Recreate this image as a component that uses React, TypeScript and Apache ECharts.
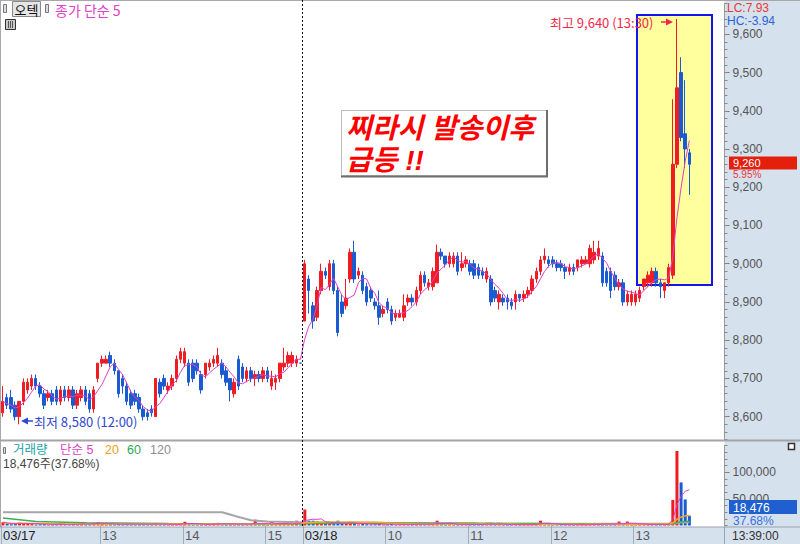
import React, { useEffect, useRef } from "react";
import * as echarts from "echarts";

const sessions = [
  { date: "03/17", start: "11:48", count: 73 },
  { date: "03/18", start: "09:00", count: 94 },
];
const stepMinutes = 3;
const emptySlots = 8;

// [open, close, low, high]
const candlesDay1: number[][] = [
  [8610, 8640, 8600, 8680], [8650, 8630, 8620, 8660], [8650, 8620, 8610, 8670], [8630, 8600, 8590, 8640],
  [8600, 8640, 8580, 8640], [8640, 8690, 8630, 8700], [8670, 8690, 8660, 8700], [8680, 8700, 8670, 8710],
  [8700, 8680, 8670, 8710], [8680, 8660, 8650, 8690], [8660, 8630, 8620, 8670], [8650, 8660, 8640, 8670],
  [8660, 8640, 8630, 8670], [8670, 8640, 8630, 8680], [8640, 8670, 8630, 8680], [8670, 8650, 8640, 8680],
  [8650, 8670, 8640, 8680], [8670, 8630, 8620, 8680], [8630, 8660, 8620, 8670], [8650, 8670, 8640, 8680],
  [8670, 8640, 8630, 8680], [8660, 8620, 8610, 8670], [8620, 8670, 8610, 8680], [8700, 8740, 8690, 8740],
  [8740, 8750, 8730, 8760], [8740, 8750, 8740, 8760], [8760, 8740, 8730, 8770], [8740, 8720, 8710, 8750],
  [8720, 8660, 8650, 8720], [8700, 8680, 8660, 8710], [8680, 8640, 8630, 8690], [8660, 8630, 8620, 8670],
  [8660, 8640, 8630, 8670], [8650, 8620, 8610, 8660], [8620, 8600, 8590, 8630], [8610, 8600, 8590, 8620],
  [8620, 8610, 8600, 8630], [8600, 8700, 8600, 8700], [8690, 8660, 8650, 8700], [8700, 8680, 8670, 8710],
  [8670, 8680, 8660, 8690], [8680, 8700, 8670, 8710], [8700, 8750, 8690, 8760], [8750, 8770, 8740, 8780],
  [8740, 8770, 8730, 8780], [8740, 8690, 8680, 8750], [8740, 8700, 8690, 8750], [8740, 8720, 8710, 8750],
  [8710, 8670, 8660, 8720], [8710, 8740, 8700, 8740], [8730, 8740, 8720, 8750], [8740, 8750, 8730, 8760],
  [8740, 8760, 8730, 8780], [8740, 8710, 8700, 8750], [8720, 8690, 8680, 8730], [8700, 8670, 8640, 8700],
  [8660, 8690, 8650, 8700], [8750, 8680, 8670, 8760], [8730, 8700, 8690, 8740], [8700, 8720, 8690, 8730],
  [8720, 8700, 8690, 8730], [8700, 8710, 8680, 8720], [8710, 8700, 8690, 8720], [8700, 8720, 8690, 8730],
  [8720, 8700, 8690, 8730], [8680, 8700, 8670, 8720], [8690, 8700, 8670, 8710], [8700, 8740, 8690, 8740],
  [8730, 8740, 8720, 8780], [8740, 8760, 8730, 8770], [8740, 8760, 8730, 8770], [8740, 8750, 8730, 8760],
  [8740, 8740, 8740, 8740],
];
const candlesDay2: number[][] = [
  [8850, 9000, 8850, 9010], [8960, 8930, 8870, 8970], [8890, 8850, 8830, 8900], [8860, 8930, 8850, 8940],
  [8930, 8980, 8920, 9000], [8980, 8970, 8960, 8990], [8940, 9000, 8930, 9010], [9000, 8930, 8920, 9010],
  [8930, 8820, 8810, 8940], [8900, 8870, 8860, 8920], [8890, 8910, 8880, 8960], [8960, 9030, 8950, 9040],
  [9030, 8960, 8950, 9060], [8970, 8980, 8960, 8990], [8970, 8930, 8920, 8980], [8940, 8900, 8890, 8950],
  [8930, 8910, 8900, 8940], [8900, 8890, 8880, 8910], [8890, 8860, 8840, 8930], [8870, 8880, 8860, 8890],
  [8900, 8880, 8870, 8910], [8880, 8850, 8840, 8890], [8860, 8870, 8850, 8880], [8860, 8870, 8860, 8880],
  [8860, 8890, 8850, 8920], [8900, 8910, 8890, 8920], [8910, 8900, 8890, 8920], [8900, 8930, 8890, 8940],
  [8930, 8970, 8920, 8980], [8970, 8950, 8940, 8980], [8940, 8950, 8930, 8960], [8940, 8980, 8930, 8990],
  [8950, 9030, 8950, 9050], [9030, 9020, 9010, 9040], [9020, 9000, 8990, 9020], [9000, 9020, 8990, 9030],
  [9000, 9020, 8990, 9030], [9020, 8980, 8970, 9030], [8990, 9000, 8980, 9030], [9000, 9010, 8990, 9020],
  [9000, 8980, 8970, 9010], [9000, 8970, 8960, 9010], [8990, 8970, 8960, 9000], [8980, 8970, 8960, 8990],
  [8960, 8980, 8950, 8990], [8960, 8900, 8890, 8970], [8930, 8910, 8900, 8940], [8900, 8920, 8880, 8930],
  [8910, 8900, 8890, 8920], [8910, 8900, 8880, 8920], [8900, 8890, 8880, 8910], [8900, 8920, 8880, 8930],
  [8920, 8910, 8900, 8920], [8910, 8920, 8900, 8930], [8920, 8930, 8910, 8940], [8930, 8960, 8920, 8970],
  [8960, 8980, 8950, 8990], [8980, 9010, 8970, 9020], [9010, 9020, 9000, 9040], [9010, 9000, 8990, 9020],
  [9010, 9000, 8990, 9020], [9000, 8990, 8980, 9010], [9000, 8990, 8980, 9010], [8990, 8980, 8960, 9000],
  [8980, 8990, 8970, 9000], [8990, 8980, 8970, 9000], [8990, 9010, 8980, 9010], [9000, 9010, 8990, 9020],
  [9000, 9010, 9000, 9020], [9000, 9040, 8990, 9050], [9010, 9030, 9000, 9060], [9020, 9040, 9010, 9060],
  [9020, 8950, 8940, 9030], [8980, 8950, 8940, 8990], [8980, 8930, 8910, 8990], [8970, 8940, 8930, 8980],
  [8940, 8950, 8930, 8960], [8950, 8900, 8890, 8960], [8900, 8920, 8890, 8930], [8900, 8920, 8890, 8930],
  [8900, 8920, 8890, 8930], [8910, 8930, 8900, 8940], [8940, 8960, 8930, 8960], [8950, 8970, 8940, 8980],
  [8950, 8980, 8940, 8990], [8980, 8950, 8940, 8990], [8950, 8940, 8910, 8960], [8930, 8950, 8910, 8950],
  [8950, 8990, 8940, 9000], [8970, 9260, 8960, 9430], [9260, 9460, 9250, 9640], [9500, 9330, 9320, 9540],
  [9340, 9300, 9250, 9480], [9290, 9260, 9180, 9300],
];
const volumeDay1: number[] = [
  6000, 3000, 2500, 4000, 5000, 4500, 3000, 3500, 2000, 2500,
  3000, 1500, 2000, 2500, 3000, 1500, 2000, 3000, 2500, 5500,
  2000, 2500, 4000, 6000, 3000, 2000, 2500, 2000, 4000, 2000,
  3000, 2500, 2000, 2500, 3500, 2000, 2500, 4500, 2000, 1500,
  1500, 2000, 3000, 3500, 7000, 2500, 2000, 1500, 2500, 2000,
  2000, 3500, 5000, 2000, 2500, 3000, 2000, 4500, 2000, 2500,
  2000, 11000, 2000, 2500, 2000, 8000, 2000, 3000, 4000, 2500,
  3000, 9000, 2000,
];
const volumeDay2: number[] = [
  30000, 9000, 9000, 8000, 6000, 3000, 5000, 4000, 9000, 3000,
  3000, 6000, 5000, 2000, 3000, 2500, 2000, 2000, 3500, 1500,
  2000, 3000, 1500, 1500, 2500, 2000, 2000, 4000, 3000, 2000,
  1500, 3000, 9000, 3000, 2000, 2500, 2000, 2500, 2000, 1500,
  2000, 2500, 1500, 1500, 5000, 3000, 2000, 2500, 1500, 1500,
  1500, 2000, 1000, 1500, 1500, 2500, 3000, 9000, 3500, 1500,
  1500, 1500, 1500, 2000, 1000, 1500, 1500, 1500, 1000, 3000,
  2500, 2500, 4000, 2000, 2500, 2000, 7500, 2000, 7500, 1500,
  1500, 2000, 2500, 2000, 2500, 2000, 1500, 2000, 3000, 48000,
  140000, 81000, 49034, 18476,
];
// moving averages of volume before enough in-window data exists
const volMa60Early: number[][] = [[0, 14000], [8, 7500], [20, 5000], [40, 3800], [58, 3200]];
const volMa120Early: number[][] = [[0, 25000], [53, 25000], [57, 16000], [60, 10000], [64, 7500], [72, 6000], [96, 4700], [118, 3600]];
const priceTicks = [8600, 8700, 8800, 8900, 9000, 9100, 9200, 9300, 9400, 9500, 9600];
const volumeTicks = [50000, 100000];

const RED = "#F01C24";
const BLUE = "#1B5BD2";
const FONT = "'Liberation Sans', 'Noto Sans CJK KR', sans-serif";
const KFONT = "'Noto Sans CJK KR', 'Liberation Sans', sans-serif";

function sma(values: number[], n: number): number[] {
  return values.map((_, i) => {
    const s = Math.max(0, i - n + 1);
    let sum = 0;
    for (let k = s; k <= i; k++) sum += values[k];
    return sum / (i - s + 1);
  });
}

const fmt = (n: number) => n.toLocaleString("en-US");
const pad = (n: number) => String(n).padStart(2, "0");

function txt(x: number, y: number, text: string, fill: string, font: string, align = "left", extra: any = {}) {
  return {
    type: "text",
    x,
    y,
    z: 50,
    silent: true,
    style: { text, fill, font, textAlign: align, textVerticalAlign: "middle", align, verticalAlign: "middle", ...extra },
  };
}
function rect(x: number, y: number, w: number, h: number, style: any, z = 40) {
  return { type: "rect", z, silent: true, shape: { x, y, width: w, height: h }, style };
}
function line(x1: number, y1: number, x2: number, y2: number, style: any, z = 45) {
  return { type: "line", z, silent: true, shape: { x1, y1, x2, y2 }, style };
}

function buildOption() {
  const candles = [...candlesDay1, ...candlesDay2];
  const volumes = [...volumeDay1, ...volumeDay2];
  const times: { date: string; hh: number; mm: number; k: number }[] = [];
  sessions.forEach((s) => {
    const [h, m] = s.start.split(":").map(Number);
    for (let k = 0; k < s.count; k++) {
      const t = h * 60 + m + k * stepMinutes;
      times.push({ date: s.date, hh: Math.floor(t / 60), mm: t % 60, k });
    }
  });
  const categories = times.map((t) => `${t.date} ${pad(t.hh)}:${pad(t.mm)}`);
  for (let e = 0; e < emptySlots; e++) categories.push(`+${e + 1}`);
  const labelAt = new Map<number, string>();
  times.forEach((t, i) => {
    if (t.k === 0) labelAt.set(i, `{d|${t.date}}`);
    else if (t.mm === 0 && t.k >= 8) labelAt.set(i, `{h|${pad(t.hh)}}`);
  });

  const closes = candles.map((c) => c[1]);
  const priceMa5 = sma(closes, 5).map((v) => +v.toFixed(2));
  const sign = (i: number) => {
    const [o, c] = candles[i];
    if (c > o) return 1;
    if (c < o) return -1;
    return i > 0 && c >= candles[i - 1][1] ? 1 : -1;
  };
  const volBars = volumes.map((v, i) => ({ value: v, itemStyle: { color: sign(i) > 0 ? RED : BLUE } }));
  const vMa5 = sma(volumes, 5);
  const vMa20 = sma(volumes, 20);
  const vMa60Full = sma(volumes, 60);
  const vMa120Full = sma(volumes, 120);
  const vMa60 = [...volMa60Early, ...vMa60Full.map((v, i) => [i, v]).filter((p) => p[0] >= 59)];
  const vMa120 = [...volMa120Early, ...vMa120Full.map((v, i) => [i, v]).filter((p) => p[0] >= 119)];

  let lowI = 0;
  let highI = 0;
  candles.forEach((c, i) => {
    if (c[2] < candles[lowI][2]) lowI = i;
    if (c[3] > candles[highI][3]) highI = i;
  });
  const last = candles[candles.length - 1][1];
  const low = candles[lowI][2];
  const high = candles[highI][3];
  const prevDayClose = candlesDay1[candlesDay1.length - 1][1];
  const lastVol = volumes[volumes.length - 1];
  const prevVol = volumes[volumes.length - 2];
  const lc = ((last / low - 1) * 100).toFixed(2);
  const hc = ((last / high - 1) * 100).toFixed(2);
  const dayPct = ((last / prevDayClose - 1) * 100).toFixed(2);
  const volPct = ((lastVol / prevVol) * 100).toFixed(2);
  const tLow = times[lowI];
  const tHigh = times[highI];
  const lastT = times[times.length - 1];

  const tickFn = (i: number) => labelAt.has(i);
  const f10 = `10px ${FONT}`;
  const f11 = `11px ${FONT}`;
  const f12 = `12px ${FONT}`;
  const f125 = `12.5px ${FONT}`;
  const k13 = `13px ${KFONT}`;

  const graphic: any[] = [
    // backgrounds
    rect(724.5, 0, 75.5, 544, { fill: "#D6E1EE" }, -20),
    rect(0, 527, 724.5, 17, { fill: "#D6E1EE" }, -20),
    line(0, 0.5, 800, 0.5, { stroke: "#A8A8A8", lineWidth: 1 }),
    line(0.5, 0, 0.5, 527, { stroke: "#A8A8A8", lineWidth: 1 }),
    line(0, 440.5, 800, 440.5, { stroke: "#A4A4A4", lineWidth: 2 }),
    line(0, 527, 800, 527, { stroke: "#9AA2AC", lineWidth: 1 }),
    line(724.5, 527, 724.5, 544, { stroke: "#9AA2AC", lineWidth: 1 }),
    // highlight box
    rect(637, 15, 75, 270, { fill: "#FFFF9E", stroke: "#1414F0", lineWidth: 2 }, -10),
    // day divider
    line(302.5, 0, 302.5, 527, { stroke: "#111", lineWidth: 1, lineDash: [2, 2] }),
    // high marker
    txt(550, 22, `최고 ${fmt(high)} (${pad(tHigh.hh)}:${pad(tHigh.mm)})`, "#F0284A", k13),
    line(661, 22, 668, 22, { stroke: "#F0284A", lineWidth: 1.5 }),
    { type: "polygon", z: 50, silent: true, shape: { points: [[673, 22], [666, 18.5], [666, 25.5]] }, style: { fill: "#F0284A" } },
    // low marker
    { type: "polygon", z: 50, silent: true, shape: { points: [[21, 421], [28, 417.5], [28, 424.5]] }, style: { fill: "#2E48D0" } },
    line(27, 421, 33, 421, { stroke: "#2E48D0", lineWidth: 1.5 }),
    txt(34, 421, `최저 ${fmt(low)} (${pad(tLow.hh)}:${pad(tLow.mm)})`, "#2E48D0", k13),
    // comment box
    rect(341.5, 110.5, 205, 65, { fill: "#FFFFFF", stroke: "#BDBDBD", lineWidth: 1 }, 40),
    line(547, 110, 547, 177, { stroke: "#6E6E6E", lineWidth: 2 }),
    line(341, 176.5, 548, 176.5, { stroke: "#6E6E6E", lineWidth: 2 }),
    txt(346, 128, "찌라시 발송이후", "#FF0000", `italic bold 28px ${FONT}`),
    txt(346, 160, "급등 !!", "#FF0000", `italic bold 28px ${FONT}`),
    // top-left legend
    rect(3.5, 4.5, 3, 8, { fill: "#DDD", stroke: "#777", lineWidth: 1 }),
    rect(12.5, 1.5, 28, 15, { fill: "#E6E6E6", stroke: "#8A8A8A", lineWidth: 1 }),
    txt(26.5, 9.5, "오텍", "#111", k13, "center"),
    rect(45.5, 4.5, 3, 8, { fill: "#DDD", stroke: "#777", lineWidth: 1 }),
    txt(55, 10, "종가 단순 5", "#E040C8", `14px ${KFONT}`),
    rect(5.5, 19.5, 10, 10, { fill: "#C8C8C8", stroke: "#333", lineWidth: 1 }),
    line(8.5, 21, 8.5, 28, { stroke: "#555", lineWidth: 1 }),
    line(10.5, 21, 10.5, 28, { stroke: "#555", lineWidth: 1 }),
    line(12.5, 21, 12.5, 28, { stroke: "#555", lineWidth: 1 }),
    // volume legend
    rect(3.5, 447.5, 2, 6, { fill: "#DDD", stroke: "#777", lineWidth: 1 }),
    txt(13, 449.5, "거래량", "#22A4A8", f125),
    txt(60, 449.5, "단순 5", "#E040C8", f125),
    txt(105, 449.5, "20", "#F0A020", f125),
    txt(127, 449.5, "60", "#30A850", f125),
    txt(150, 449.5, "120", "#8E8E8E", f125),
    txt(3, 464, `${fmt(lastVol)}주(${volPct}%)`, "#444", f12),
    // right panel
    txt(727, 8, `LC:${lc}`, "#E83838", f12),
    txt(727, 21, `HC:${hc}`, "#2A62D8", f12),
    rect(729, 156.5, 68, 13, { fill: "#E4200C" }),
    txt(733, 162.5, fmt(last), "#FFFFFF", f11),
    txt(733, 174.3, `${dayPct}%`, "#E83838", f10),
    rect(729, 500, 68, 14, { fill: "#1F5FCF" }),
    txt(733, 507.5, fmt(lastVol), "#FFFFFF", f12),
    txt(733, 521, `${volPct}%`, "#3A70E0", f12),
    txt(732, 536, `${pad(lastT.hh)}:${pad(lastT.mm)}:00`, "#333", f12),
    rect(788.5, 443.5, 6, 6, { fill: "#FFF", stroke: "#333", lineWidth: 1.5 }),
  ];

  const minorTick = { show: true, length: 3, lineStyle: { color: "#8A8A8A" } };
  return {
    animation: false,
    backgroundColor: "#FFFFFF",
    grid: [
      { left: 0.5, right: 75.5, top: 3.7, height: 435.9 },
      { left: 0.5, right: 75.5, top: 445.7, height: 79.8 },
    ],
    xAxis: [
      {
        type: "category", gridIndex: 0, data: categories, boundaryGap: true,
        axisLine: { show: false }, axisTick: { show: false }, axisLabel: { show: false }, splitLine: { show: false },
      },
      {
        type: "category", gridIndex: 1, data: categories, boundaryGap: true,
        axisLine: { show: false },
        axisTick: { show: true, interval: tickFn, length: 19, lineStyle: { color: "#A3AEBC" } },
        axisLabel: {
          interval: tickFn, margin: 3, align: "left",
          formatter: (_v: string, i: number) => labelAt.get(i) ?? "",
          rich: {
            d: { color: "#222", fontSize: 13, fontFamily: FONT },
            h: { color: "#5A5A5A", fontSize: 13, fontFamily: FONT },
          },
        },
        splitLine: { show: false },
      },
    ],
    yAxis: [
      {
        type: "value", gridIndex: 0, position: "right", min: 8540, max: 9680,
        axisLine: { show: true, lineStyle: { color: "#9A9A9A" } },
        axisTick: { show: true, customValues: priceTicks, length: 5, lineStyle: { color: "#777" } },
        axisLabel: { customValues: priceTicks, formatter: (v: number) => fmt(v), color: "#555", fontSize: 12, fontFamily: FONT, margin: 8 },
        splitLine: { show: false },
      },
      {
        type: "value", gridIndex: 0, position: "right", min: 8540, max: 9680, interval: 20,
        axisLine: { show: false }, axisTick: minorTick, axisLabel: { show: false }, splitLine: { show: false },
      },
      {
        type: "value", gridIndex: 1, position: "right", min: 0, max: 150000,
        axisLine: { show: true, lineStyle: { color: "#9A9A9A" } },
        axisTick: { show: true, customValues: volumeTicks, length: 5, lineStyle: { color: "#777" } },
        axisLabel: { customValues: volumeTicks, formatter: (v: number) => fmt(v), color: "#555", fontSize: 12, fontFamily: FONT, margin: 8 },
        splitLine: { show: false },
      },
      {
        type: "value", gridIndex: 1, position: "right", min: 0, max: 150000, interval: 12500,
        axisLine: { show: false }, axisTick: minorTick, axisLabel: { show: false }, splitLine: { show: false },
      },
    ],
    series: [
      {
        type: "candlestick", xAxisIndex: 0, yAxisIndex: 0, data: candles, barWidth: 3,
        itemStyle: { color: RED, color0: BLUE, borderColor: RED, borderColor0: BLUE, borderWidth: 1 },
        silent: true,
      },
      {
        type: "line", xAxisIndex: 0, yAxisIndex: 0, data: priceMa5, symbol: "none",
        lineStyle: { color: "#E040C8", width: 1 }, silent: true, z: 3,
      },
      { type: "bar", xAxisIndex: 1, yAxisIndex: 2, data: volBars, barWidth: 3, silent: true },
      {
        type: "line", xAxisIndex: 1, yAxisIndex: 2, data: vMa120, symbol: "none",
        lineStyle: { color: "#A6A6A6", width: 2 }, silent: true, z: 3,
      },
      {
        type: "line", xAxisIndex: 1, yAxisIndex: 2, data: vMa60, symbol: "none",
        lineStyle: { color: "#3CB050", width: 1.5 }, silent: true, z: 3,
      },
      {
        type: "line", xAxisIndex: 1, yAxisIndex: 2, data: vMa20, symbol: "none",
        lineStyle: { color: "#F5A623", width: 1.5 }, silent: true, z: 3,
      },
      {
        type: "line", xAxisIndex: 1, yAxisIndex: 2, data: vMa5, symbol: "none",
        lineStyle: { color: "#E040C8", width: 1 }, silent: true, z: 3,
      },
    ],
    graphic,
  };
}

export default function App() {
  const ref = useRef<HTMLDivElement>(null);
  useEffect(() => {
    if (!ref.current) return;
    const chart = echarts.init(ref.current, undefined, { renderer: "svg", width: 800, height: 544 });
    chart.setOption(buildOption() as any);
    return () => chart.dispose();
  }, []);
  return (
    <div
      ref={ref}
      style={{ position: "fixed", left: 0, top: 0, width: 800, height: 544, background: "#fff" }}
    />
  );
}
